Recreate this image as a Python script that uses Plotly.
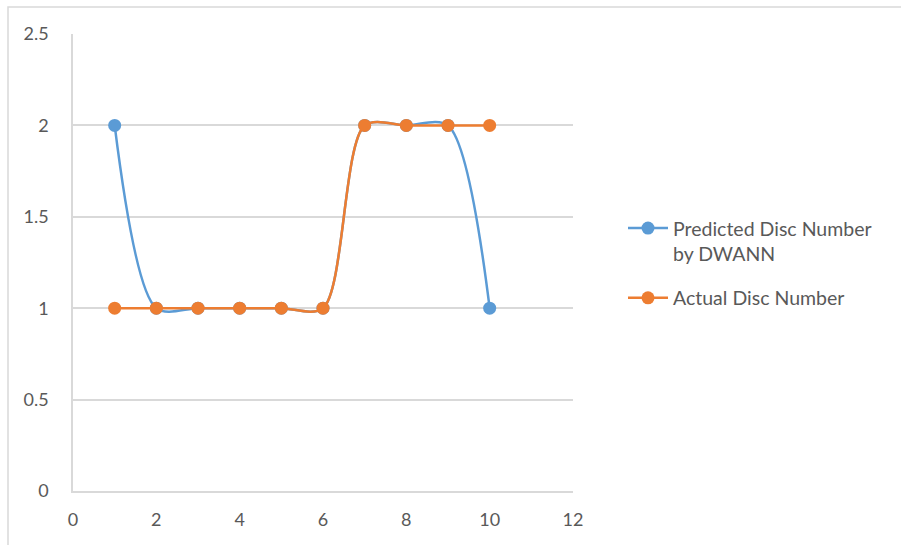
import plotly.graph_objects as go

# Disc index along the x axis
disc_index = [1, 2, 3, 4, 5, 6, 7, 8, 9, 10]
# Disc number predicted by the DWANN model
predicted_disc = [2, 1, 1, 1, 1, 1, 2, 2, 2, 1]
# Disc number actually observed
actual_disc = [1, 1, 1, 1, 1, 1, 2, 2, 2, 2]

x_ticks = [0, 2, 4, 6, 8, 10, 12]
y_ticks = [0, 0.5, 1, 1.5, 2, 2.5]

BLUE = "#5B9BD5"
ORANGE = "#ED7D31"
GRID = "#D9D9D9"
TEXT = "#595959"
FONT = "Lato, 'Open Sans', sans-serif"

fig = go.Figure()
fig.add_trace(go.Scatter(
    x=disc_index, y=predicted_disc, mode="lines+markers",
    name="Predicted Disc Number<br>by DWANN", legendgroup="pred",
    line=dict(color=BLUE, width=2.5, shape="spline", smoothing=0.85),
    marker=dict(color=BLUE, size=13),
))
fig.add_trace(go.Scatter(
    x=disc_index, y=actual_disc, mode="lines+markers",
    name="Actual Disc Number", legendgroup="actual",
    line=dict(color=ORANGE, width=2.5, shape="spline", smoothing=0.85),
    marker=dict(color=ORANGE, size=13),
))

fig.update_layout(
    width=901, height=545,
    margin=dict(l=73, r=328, t=34, b=54),
    paper_bgcolor="white", plot_bgcolor="white",
    font=dict(family=FONT, size=18, color=TEXT),
    showlegend=True,
    legend=dict(
        x=1.1, y=0.498, xanchor="left", yanchor="middle",
        font=dict(family=FONT, size=19.5, color=TEXT),
        valign="top", traceorder="grouped",
        tracegroupgap=16, itemwidth=40,
        bgcolor="rgba(0,0,0,0)",
    ),
    xaxis=dict(
        range=[0, 12], tickvals=x_ticks, ticktext=[str(v) for v in x_ticks],
        showgrid=False, zeroline=False,
        showline=True, linecolor=GRID, linewidth=1.5,
        ticks="", ticklabelstandoff=12,
        tickfont=dict(family=FONT, size=18, color=TEXT),
    ),
    yaxis=dict(
        range=[0, 2.5], tickvals=y_ticks, ticktext=["0", "0.5", "1", "1.5", "2", "2.5"],
        showgrid=True, gridcolor=GRID, gridwidth=1.5, zeroline=False,
        showline=True, linecolor=GRID, linewidth=1.5,
        ticks="", ticklabelstandoff=19,
        tickfont=dict(family=FONT, size=18, color=TEXT),
    ),
    shapes=[dict(
        type="rect", xref="paper", yref="paper",
        x0=-0.13, x1=1.8, y0=-0.2, y1=1.059,
        line=dict(color=GRID, width=1.5), layer="below",
    )],
)

fig.write_html("out.html")
